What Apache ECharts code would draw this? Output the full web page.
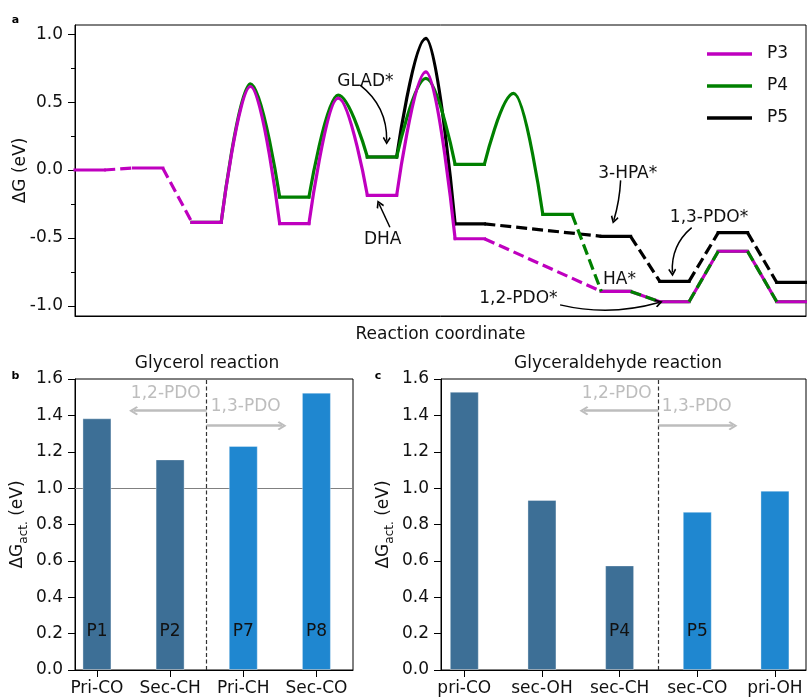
<!DOCTYPE html>
<html><head><meta charset="utf-8">
<script src="https://cdn.jsdelivr.net/npm/echarts@6/dist/echarts.min.js"></script>
<style>html,body{margin:0;padding:0;background:#fff}#c{width:807px;height:698px}</style>
</head><body><div id="c"></div>
<script>
// ================= DATA =================
// Panel a: free-energy profile (reaction coordinate units, eV)
const stateStart = [0, 2, 4, 7, 10, 13, 16, 18, 20, 22, 24];
const P3_G  = [0.00, 0.015, -0.385, -0.395, -0.187, -0.506, null, -0.894, -0.970, -0.598, -0.970];
const P4_G  = [null, null, -0.385, -0.199, 0.096, 0.042, -0.327, -0.894, -0.970, -0.598, -0.970];
const P5_G  = [null, null, null, null, 0.096, -0.396, null, -0.488, -0.820, -0.461, -0.828];
// transition-state energy of the step leaving each state (null = no barrier)
const P3_TS = [null, null, 0.615, 0.530, 0.723, null, null, null, null, null, null];
const P4_TS = [null, null, 0.635, 0.551, 0.675, 0.564, null, null, null, null, null];
const P5_TS = [null, null, null, null, 0.970, null, null, null, null, null, null];
// steps drawn as dashed connectors (index of the state the step leaves)
const P3_dashedFrom = [0, 1, 5];
const P4_dashedFrom = [6, 7, 8, 9];
const P5_dashedFrom = [5, 7, 8, 9];
const yTicksA = [-1.0, -0.5, 0.0, 0.5, 1.0];
const yMinorA = [-0.75, -0.25, 0.25, 0.75];
const annoText  = ['GLAD*', 'DHA', '3-HPA*', '1,3-PDO*', 'HA*', '1,2-PDO*'];
const annoTextX = [9.95, 10.54, 18.92, 21.70, 18.64, 15.18];
const annoTextY = [0.647, -0.513, -0.027, -0.353, -0.813, -0.949];
const arrowFrom = [[9.75, 0.625], [10.77, -0.421], [18.66, -0.076], [21.09, -0.424], null, [16.59, -0.993]];
const arrowTo   = [[10.66, 0.215], [10.40, -0.250], [18.43, -0.368], [20.43, -0.755], null, [19.97, -0.976]];

// Panel b: glycerol reaction
const glyCats  = ['Pri-CO', 'Sec-CH', 'Pri-CH', 'Sec-CO'];
const glyVals  = [1.384, 1.158, 1.232, 1.525];
const glyTags  = ['P1', 'P2', 'P7', 'P8'];
const glyRoute = ['1,2-PDO', '1,2-PDO', '1,3-PDO', '1,3-PDO'];
// Panel c: glyceraldehyde reaction
const gldCats  = ['pri-CO', 'sec-OH', 'sec-CH', 'sec-CO', 'pri-OH'];
const gldVals  = [1.530, 0.935, 0.575, 0.870, 0.986];
const gldTags  = ['', '', 'P4', 'P5', ''];
const gldRoute = ['1,2-PDO', '1,2-PDO', '1,2-PDO', '1,3-PDO', '1,3-PDO'];
const routeLabels = ['1,2-PDO', '1,3-PDO'];

// ================= STYLE / LAYOUT =================
const FONT = 'DejaVu Sans';
const TXT = '#111';
const LW = 3.2;
const colorP = {P3: '#bf00bf', P4: '#008000', P5: '#000000'};
const routeColor = {'1,2-PDO': '#3d6f96', '1,3-PDO': '#1f87d0'};
const chevron = 'path://M0,10 L10,0 L20,10 L17.2,12 L10,5 L2.8,12 Z';
const arrowBend = [0.25, 0, 0.06, -0.25, 0, -0.13];

function pathSeries(name, G, TS, dashedFrom, z, dashZ) {
  const color = colorP[name];
  const idx = G.map((g, i) => g == null ? -1 : i).filter(i => i >= 0);
  const st = [], da = [], ba = [];
  const BR = [null, null];
  idx.forEach((i, k) => {
    st.push([stateStart[i], G[i]], [stateStart[i] + 1, G[i]]);
    if (k === idx.length - 1) return;
    const j = idx[k + 1];
    const a = [stateStart[i] + 1, G[i]], b = [stateStart[j], G[j]];
    if (TS[i] != null) { ba.push(a, [(a[0] + b[0]) / 2, TS[i]], b, BR); st.push(BR); }
    else if (dashedFrom.includes(i)) { da.push(a, b, BR); st.push(BR); }
  });
  const base = {type: 'line', name, xAxisIndex: 0, yAxisIndex: 0, symbol: 'none', showSymbol: false,
    silent: true, emphasis: {disabled: true}, connectNulls: false, itemStyle: {color}};
  return [
    Object.assign({}, base, {z, data: st, lineStyle: {color, width: LW, cap: 'square', join: 'round'}}),
    Object.assign({}, base, {z, data: ba, smooth: 0.4, smoothMonotone: 'x', lineStyle: {color, width: LW, cap: 'round', join: 'round'}}),
    Object.assign({}, base, {z: dashZ, data: da, lineStyle: {color, width: LW, type: [11, 5], cap: 'butt'}})
  ];
}

const axisTxt = {fontFamily: FONT, fontSize: 17, color: TXT};
const blackLine = {show: true, onZero: false, lineStyle: {color: '#000', width: 1}};
const subName = {
  rich: {
    m: {fontFamily: FONT, fontSize: 17, color: TXT, lineHeight: 24},
    s: {fontFamily: FONT, fontSize: 12, color: TXT, lineHeight: 14, verticalAlign: 'bottom'}
  }
};

function barAxisX(grid, cats, max) {
  const ticks = cats.map((c, i) => i);
  return {gridIndex: grid, type: 'value', min: -0.3, max, axisLine: blackLine,
    axisTick: {customValues: ticks, length: 7, lineStyle: {color: '#000'}},
    axisLabel: {customValues: ticks, formatter: v => cats[Math.round(v)], margin: 10, ...axisTxt},
    splitLine: {show: false}};
}
function barAxisY(grid) {
  return {gridIndex: grid, type: 'value', min: 0, max: 1.6, interval: 0.2, axisLine: blackLine,
    axisTick: {length: 7, lineStyle: {color: '#000'}},
    axisLabel: {formatter: v => v.toFixed(1), margin: 12, ...axisTxt},
    splitLine: {show: false},
    name: '{m|ΔG}{s|act.}{m| (eV)}', nameLocation: 'middle', nameRotate: 90, nameGap: 45,
    nameMoveOverlap: false, nameTextStyle: subName};
}
function barSeries(xi, yi, vals, tags, route) {
  return {type: 'bar', xAxisIndex: xi, yAxisIndex: yi, barWidth: 29, z: 2, silent: true,
    emphasis: {disabled: true},
    data: vals.map((v, i) => ({
      value: [i, v],
      itemStyle: {color: routeColor[route[i]], borderColor: 'rgba(255,255,255,0.35)', borderWidth: 1},
      label: {show: !!tags[i], formatter: tags[i], position: 'insideBottom', distance: 30,
        fontFamily: FONT, fontSize: 17, color: TXT}
    }))};
}
function guideSeries(xi, yi, split, withUnity) {
  const d = [{xAxis: split, lineStyle: {type: [4, 2.5], color: '#333', width: 1.2}}];
  if (withUnity) d.push({yAxis: 1.0, lineStyle: {type: 'solid', color: '#808080', width: 1.2}});
  return {type: 'line', xAxisIndex: xi, yAxisIndex: yi, data: [], z: 1, silent: true,
    markLine: {z: 1, silent: true, symbol: ['none', 'none'], label: {show: false}, animation: false, data: d}};
}
function routeArrows(xi, yi, split, leftEnd, rightEnd) {
  return {type: 'lines', coordinateSystem: 'cartesian2d', xAxisIndex: xi, yAxisIndex: yi, z: 6, silent: true,
    symbol: ['none', chevron], symbolSize: [14, 9],
    lineStyle: {color: '#bdbdbd', width: 2.5, opacity: 1},
    data: [{coords: [[split, 1.426], [leftEnd, 1.426]]}, {coords: [[split, 1.343], [rightEnd, 1.343]]}]};
}
function textSeries(xi, yi, names, xs, ys, color) {
  return {type: 'scatter', xAxisIndex: xi, yAxisIndex: yi, symbolSize: 1, z: 7, silent: true,
    itemStyle: {color: 'rgba(0,0,0,0)'},
    data: names.map((n, i) => ({name: n, value: [xs[i], ys[i]]})),
    label: {show: true, position: [0, 0], align: 'center', verticalAlign: 'middle', formatter: '{b}',
      fontFamily: FONT, fontSize: 17, color, opacity: 1, textBorderWidth: 0}};
}

const series = [].concat(
  pathSeries('P3', P3_G, P3_TS, P3_dashedFrom, 4, 4),
  pathSeries('P4', P4_G, P4_TS, P4_dashedFrom, 3, 5),
  pathSeries('P5', P5_G, P5_TS, P5_dashedFrom, 2, 2),
  [{type: 'lines', coordinateSystem: 'cartesian2d', xAxisIndex: 0, yAxisIndex: 0, z: 10, silent: true,
    symbol: ['none', chevron], symbolSize: [11, 8],
    lineStyle: {color: '#000', width: 1.5, opacity: 1},
    data: arrowFrom.map((f, i) => f ? {coords: [f, arrowTo[i]], lineStyle: {curveness: arrowBend[i]}} : null).filter(Boolean)},
   textSeries(0, 0, annoText, annoTextX, annoTextY, TXT),
   guideSeries(1, 2, 1.5, true),
   barSeries(1, 2, glyVals, glyTags, glyRoute),
   routeArrows(1, 2, 1.5, 0.50, 2.53),
   textSeries(1, 2, routeLabels, [0.948, 2.04], [1.518, 1.444], '#bdbdbd'),
   guideSeries(2, 3, 2.5, false),
   barSeries(2, 3, gldVals, gldTags, gldRoute),
   routeArrows(2, 3, 2.5, 1.54, 3.46),
   textSeries(2, 3, routeLabels, [1.97, 3.0], [1.518, 1.444], '#bdbdbd')]
);

const option = {
  animation: false,
  backgroundColor: '#fff',
  textStyle: {fontFamily: FONT},
  grid: [
    {left: 75, top: 25, width: 731, height: 291, show: true, borderColor: '#000', borderWidth: 1},
    {left: 75, top: 379, width: 278, height: 291, show: true, borderColor: '#000', borderWidth: 1},
    {left: 441, top: 379, width: 365, height: 291, show: true, borderColor: '#000', borderWidth: 1}
  ],
  xAxis: [
    {gridIndex: 0, type: 'value', min: 0, max: 25, axisLine: blackLine, axisTick: {show: false},
     axisLabel: {show: false}, splitLine: {show: false},
     name: 'Reaction coordinate', nameLocation: 'middle', nameGap: 10, nameTextStyle: axisTxt},
    barAxisX(1, glyCats, 3.5),
    barAxisX(2, gldCats, 4.4)
  ],
  yAxis: [
    {gridIndex: 0, type: 'value', min: -1.075, max: 1.068, position: 'left', axisLine: blackLine,
     axisTick: {customValues: yTicksA, length: 7, lineStyle: {color: '#000'}},
     axisLabel: {customValues: yTicksA, formatter: v => v.toFixed(1), margin: 12, ...axisTxt},
     splitLine: {show: false},
     name: 'ΔG (eV)', nameLocation: 'middle', nameRotate: 90, nameGap: 46, nameMoveOverlap: false,
     nameTextStyle: axisTxt},
    {gridIndex: 0, type: 'value', min: -1.075, max: 1.068, position: 'left', offset: 0,
     axisLine: {show: false, onZero: false},
     axisTick: {customValues: yMinorA, length: 4, lineStyle: {color: '#000'}},
     axisLabel: {show: false}, splitLine: {show: false}},
    barAxisY(1),
    barAxisY(2)
  ],
  legend: {data: ['P3', 'P4', 'P5'], orient: 'vertical', left: 702, top: 39, itemWidth: 45, itemHeight: 3.5,
    icon: 'rect', itemGap: 12, selectedMode: false,
    textStyle: {fontFamily: FONT, fontSize: 17, color: TXT, padding: [0, 0, 0, 10], lineHeight: 20}},
  graphic: [
    {type: 'text', x: 207, y: 364, style: {text: 'Glycerol reaction', fontFamily: FONT, fontSize: 17, fill: TXT, align: 'center', verticalAlign: 'middle'}},
    {type: 'text', x: 618, y: 364, style: {text: 'Glyceraldehyde reaction', fontFamily: FONT, fontSize: 17, fill: TXT, align: 'center', verticalAlign: 'middle'}},
    {type: 'text', x: 15.5, y: 20, style: {text: 'a', fontFamily: FONT, fontSize: 11, fontWeight: 'bold', fill: '#000', align: 'center', verticalAlign: 'middle'}},
    {type: 'text', x: 15.5, y: 376, style: {text: 'b', fontFamily: FONT, fontSize: 11, fontWeight: 'bold', fill: '#000', align: 'center', verticalAlign: 'middle'}},
    {type: 'text', x: 378, y: 376, style: {text: 'c', fontFamily: FONT, fontSize: 11, fontWeight: 'bold', fill: '#000', align: 'center', verticalAlign: 'middle'}}
  ],
  series
};
const chart = echarts.init(document.getElementById('c'));
chart.setOption(option);
</script>
</body></html>
